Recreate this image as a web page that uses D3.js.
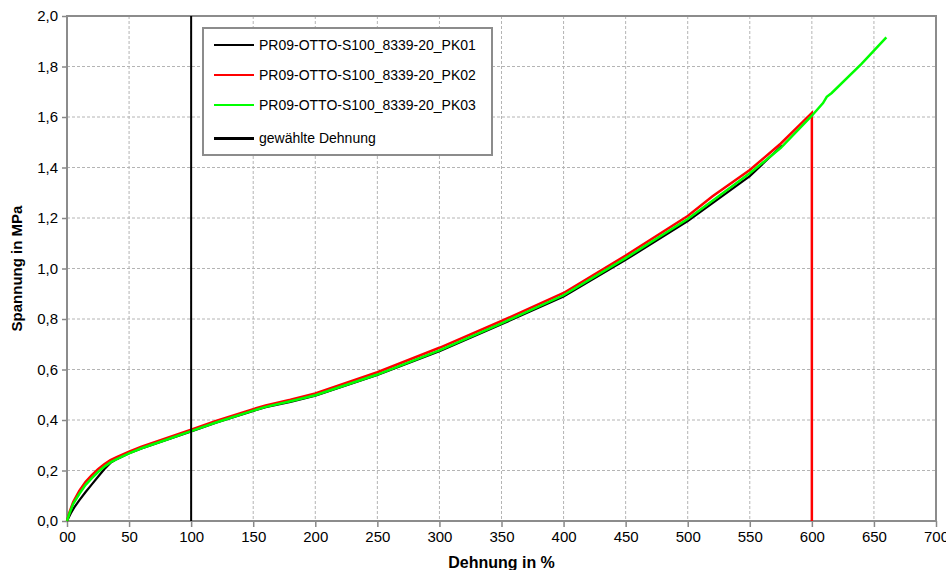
<!DOCTYPE html>
<html><head><meta charset="utf-8">
<script src="https://cdn.jsdelivr.net/npm/d3@7"></script>
<style>body{margin:0;background:#fff;} svg{display:block;font-family:"Liberation Sans",Arial,sans-serif;}</style>
</head><body><svg id="c" width="946" height="570"></svg>
<script>
const xTicks=[0,50,100,150,200,250,300,350,400,450,500,550,600,650,700];
const xTickLabels=["00","50","100","150","200","250","300","350","400","450","500","550","600","650","700"];
const yTicks=[0,0.2,0.4,0.6,0.8,1.0,1.2,1.4,1.6,1.8,2.0];
const yTickLabels=["0,0","0,2","0,4","0,6","0,8","1,0","1,2","1,4","1,6","1,8","2,0"];
const seriesNames=["PR09-OTTO-S100_8339-20_PK01","PR09-OTTO-S100_8339-20_PK02","PR09-OTTO-S100_8339-20_PK03","gewählte Dehnung"];

const pk01x=[0,3,6,10,15,20,25,30,35,40,50,60,80,100,120,150,160,180,200,250,300,350,400,450,500,550,576];
const pk01y=[0,0.03,0.055,0.083,0.115,0.145,0.175,0.205,0.23,0.245,0.268,0.287,0.321,0.355,0.389,0.436,0.451,0.472,0.496,0.578,0.672,0.779,0.889,1.034,1.188,1.366,1.487];

const pk02x=[0,2,5,10,15,20,25,30,35,40,50,60,80,100,120,150,160,180,200,250,300,350,400,450,500,520,550,575,600,600];
const pk02y=[0,0.035,0.075,0.12,0.155,0.182,0.205,0.225,0.241,0.253,0.275,0.294,0.328,0.362,0.396,0.443,0.458,0.48,0.505,0.589,0.686,0.792,0.903,1.051,1.208,1.286,1.39,1.495,1.616,0];

const pk03x=[0,2,5,10,15,20,25,30,35,40,50,60,80,100,120,150,160,180,200,250,300,350,400,450,500,550,575,600,609,612,616,640,660];
const pk03y=[0,0.03,0.068,0.108,0.143,0.17,0.194,0.215,0.232,0.245,0.268,0.288,0.322,0.356,0.39,0.437,0.452,0.474,0.498,0.58,0.676,0.783,0.894,1.041,1.196,1.377,1.478,1.605,1.655,1.68,1.695,1.81,1.915];

const chosenX=[100,100];
const chosenY=[0,2.0];

const svg=d3.select("#c");
const L=67,R=936,T=16,B=521;
const x=d3.scaleLinear().domain([0,700]).range([L,R]);
const y=d3.scaleLinear().domain([0,2.0]).range([B,T]);

// grid
const g=svg.append("g");
g.selectAll(".vg").data(xTicks.slice(1,-1)).enter().append("line")
 .attr("x1",d=>x(d)).attr("x2",d=>x(d)).attr("y1",T).attr("y2",B)
 .attr("stroke","#b4b4b4").attr("stroke-dasharray","3,2").attr("stroke-width",1);
g.selectAll(".hg").data(yTicks.slice(1,-1)).enter().append("line")
 .attr("y1",d=>y(d)).attr("y2",d=>y(d)).attr("x1",L).attr("x2",R)
 .attr("stroke","#b4b4b4").attr("stroke-dasharray","3,2").attr("stroke-width",1);

// axes
const xAxis=d3.axisBottom(x).tickValues(xTicks).tickSize(6).tickPadding(4).tickFormat((d,i)=>xTickLabels[i]);
const yAxis=d3.axisLeft(y).tickValues(yTicks).tickSize(5).tickPadding(4).tickFormat((d,i)=>yTickLabels[i]);
const ax=svg.append("g").attr("transform",`translate(0,${B})`).call(xAxis);
const ay=svg.append("g").attr("transform",`translate(${L},0)`).call(yAxis);
[ax,ay].forEach(a=>{
  a.select(".domain").remove();
  a.selectAll(".tick line").attr("stroke","#888").attr("stroke-width",1.5);
  a.selectAll("text").attr("fill","#000").style("font-size","15px").style("font-family","'Liberation Sans',Arial,sans-serif");
});

// frame
svg.append("rect").attr("x",L).attr("y",T).attr("width",R-L).attr("height",B-T)
 .attr("fill","none").attr("stroke","#8c8c8c").attr("stroke-width",2);

const line=d3.line().x(d=>x(d[0])).y(d=>y(d[1]));
const zip=(a,b)=>a.map((v,i)=>[v,b[i]]);
svg.append("path").datum(zip(pk01x,pk01y)).attr("d",line).attr("fill","none").attr("stroke","#000").attr("stroke-width",2.2);
svg.append("path").datum(zip(pk02x,pk02y)).attr("d",line).attr("fill","none").attr("stroke","#ff0000").attr("stroke-width",2.5);
svg.append("path").datum(zip(pk03x,pk03y)).attr("d",line).attr("fill","none").attr("stroke","#00ff00").attr("stroke-width",2.5);
svg.append("path").datum(zip(chosenX,chosenY)).attr("d",line).attr("fill","none").attr("stroke","#000").attr("stroke-width",2);

// legend
const lg=svg.append("g");
lg.append("rect").attr("x",203).attr("y",28).attr("width",289).attr("height",127)
 .attr("fill","#fff").attr("stroke","#8c8c8c").attr("stroke-width",2);
const lColors=["#000","#ff0000","#00ff00","#000"];
const lWidths=[1.5,2.5,2.5,3];
const lY=[45,75,105,138];
seriesNames.forEach((n,i)=>{
  lg.append("line").attr("x1",214).attr("x2",254).attr("y1",lY[i]).attr("y2",lY[i]).attr("stroke",lColors[i]).attr("stroke-width",lWidths[i]).attr("shape-rendering","crispEdges");
  lg.append("text").attr("x",259).attr("y",lY[i]+5).text(n).style("font-size","14px");
});

// titles
svg.append("text").attr("x",(L+R)/2).attr("y",568).attr("text-anchor","middle")
 .style("font-size","16px").style("font-weight","bold").text("Dehnung in %");
svg.append("text").attr("transform",`translate(22,${(T+B)/2}) rotate(-90)`).attr("text-anchor","middle")
 .style("font-size","15px").style("font-weight","bold").text("Spannung in MPa");
</script></body></html>
